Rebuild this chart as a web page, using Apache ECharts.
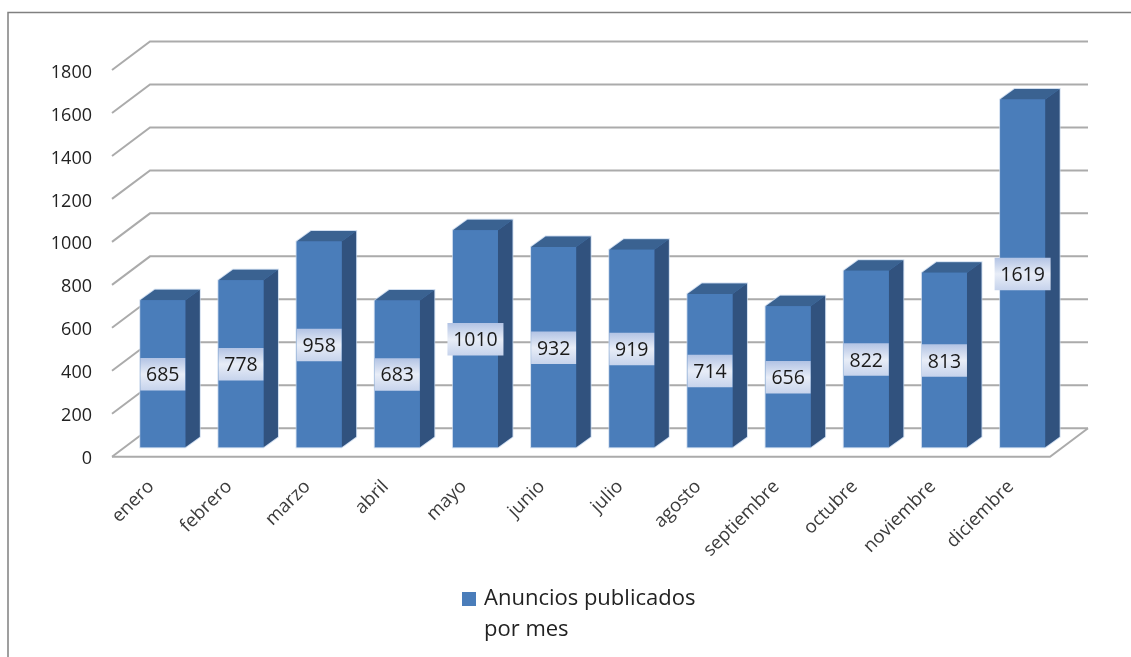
<!DOCTYPE html>
<html><head><meta charset="utf-8">
<style>html,body{margin:0;padding:0;background:#fff}#c{width:1131px;height:657px}</style>
<script src="https://cdn.jsdelivr.net/npm/echarts@6/dist/echarts.min.js"></script>
</head><body><div id="c"></div>
<script>
const categories = ['enero','febrero','marzo','abril','mayo','junio','julio','agosto','septiembre','octubre','noviembre','diciembre'];
const values = [685,778,958,683,1010,932,919,714,656,822,813,1619];
const yTicks = [0,200,400,600,800,1000,1200,1400,1600,1800];
const seriesName = 'Anuncios publicados\npor mes';
const FONT = '"Open Sans","Noto Sans",sans-serif';
const WALL_DX = 38, WALL_DY = 28.5;
const BAR_W = 45, BAR_DX = 11.7, BAR_DY = 9.4, SIDE_DX = 14.5, SIDE_DY = 10.5;
const GRID_COLOR = '#ababab';

const chart = echarts.init(document.getElementById('c'), null, {renderer:'canvas'});

function renderWall(params, api){
  const v = api.value(1);
  const cs = params.coordSys;
  const y = api.coord([0, v])[1];
  const x0 = cs.x, x1 = cs.x + cs.width;
  const kids = [{type:'polyline', shape:{points:[[x0,y],[x0+WALL_DX,y-WALL_DY],[x1+WALL_DX,y-WALL_DY]]},
    style:{fill:null, stroke:GRID_COLOR, lineWidth:2}}];
  if (v === 0) kids.push({type:'polyline', shape:{points:[[x0,y],[x1,y],[x1+WALL_DX,y-WALL_DY]]},
    style:{fill:null, stroke:GRID_COLOR, lineWidth:2}});
  return {type:'group', children:kids};
}

function renderBar(params, api){
  const i = api.value(0), v = api.value(1);
  const top = api.coord([i, v]), base = api.coord([i, 0]);
  const cx = top[0] + BAR_DX;
  const l = cx - BAR_W/2, r = cx + BAR_W/2;
  const t = top[1] - BAR_DY, b = base[1] - BAR_DY;
  const mid = (t + b) / 2 + 0.5;
  const txt = String(v);
  const boxW = txt.length > 3 ? 56 : 45;
  return {type:'group', children:[
    {type:'polygon', shape:{points:[[l,b],[r,b],[r+SIDE_DX,b-SIDE_DY],[r+SIDE_DX,t-SIDE_DY],[l+SIDE_DX,t-SIDE_DY],[l,t]]},
      style:{fill:'#4a7dba', stroke:'rgba(190,208,232,0.7)', lineWidth:2}},
    {type:'polygon', shape:{points:[[r,b],[r+SIDE_DX,b-SIDE_DY],[r+SIDE_DX,t-SIDE_DY],[r,t]]},
      style:{fill:'#31527e'}},
    {type:'polygon', shape:{points:[[l,t],[l+SIDE_DX,t-SIDE_DY],[r+SIDE_DX,t-SIDE_DY],[r,t]]},
      style:{fill:'#3a6291'}},
    {type:'rect', shape:{x:l,y:t,width:BAR_W,height:b-t},
      style:{fill:'#4a7dba'}},
    {type:'rect', shape:{x:cx-boxW/2,y:mid-16.25,width:boxW,height:32.5},
      style:{fill:new echarts.graphic.LinearGradient(0,0,0,1,[
        {offset:0,color:'#b2c3e4'},{offset:0.5,color:'#e8edf7'},{offset:1,color:'#c6d3ec'}])}},
    {type:'text', x:cx, y:mid+1.5, style:{text:txt, fill:'#1a1a1a', font:'19.5px '+FONT, align:'center', verticalAlign:'middle'}}
  ]};
}

chart.setOption({
  animation:false,
  backgroundColor:'#fff',
  grid:{left:112, right:81, top:70, bottom:200.3, containLabel:false},
  xAxis:{type:'category', data:categories,
    axisLine:{show:false}, axisTick:{show:false}, splitLine:{show:false},
    axisLabel:{rotate:45, interval:0, margin:27, color:'#3c3c3c', fontFamily:FONT, fontSize:18.5}},
  yAxis:{type:'value', min:0, max:1800, interval:200,
    axisLine:{show:false}, axisTick:{show:false}, splitLine:{show:false},
    axisLabel:{margin:20, color:'#222', fontFamily:FONT, fontSize:18, verticalAlign:'top', lineHeight:5, formatter:v=>String(v)}},
  legend:{data:[seriesName], left:457, top:547.5, itemWidth:14, itemHeight:14, itemGap:0, icon:'rect',
    selectedMode:false, formatter:n=>'\n'+n,
    textStyle:{fontFamily:FONT, fontSize:22, lineHeight:31, color:'#222', padding:[0,0,0,3]}},
  graphic:[{type:'polyline', silent:true, shape:{points:[[8,657],[8,12.5],[1131,12.5]]},
    style:{fill:null, stroke:'#808080', lineWidth:1.5}}],
  series:[
    {type:'custom', name:'pared', z:1, silent:true, renderItem:renderWall,
      data:yTicks.map(v=>[0,v]), encode:{x:0,y:1}},
    {type:'custom', name:seriesName, z:2, silent:true, renderItem:renderBar,
      itemStyle:{color:'#4a7dba'},
      data:values.map((v,i)=>[i,v]), encode:{x:0,y:1}}
  ]
});
</script></body></html>
